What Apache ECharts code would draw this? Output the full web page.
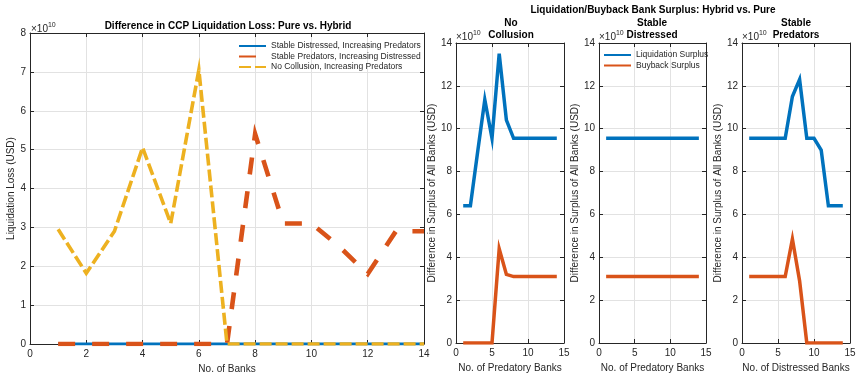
<!DOCTYPE html>
<html>
<head>
<meta charset="utf-8">
<script src="https://cdn.jsdelivr.net/npm/echarts@6/dist/echarts.min.js"></script>
<style>
  html, body { margin: 0; padding: 0; background: #fff; }
  #chart { width: 860px; height: 373px; }
</style>
</head>
<body>
<div id="chart"></div>
<script>
// ---------- data (values in units of 1e10 USD) ----------
const banks = [1, 2, 3, 4, 5, 6, 7, 8, 9, 10, 11, 12, 13, 14];

// Left: Difference in CCP Liquidation Loss
const lossStableDistressed = [0, 0, 0, 0, 0, 0, 0, 0, 0, 0, 0, 0, 0, 0];
const lossStablePredators  = [0, 0, 0, 0, 0, 0, 0, 5.4, 3.1, 3.1, 2.5, 1.8, 2.9, 2.9];
const lossNoCollusion      = [2.95, 1.82, 2.9, 5.05, 3.1, 7.05, 0, 0, 0, 0, 0, 0, 0, 0];

// Right: surplus panels
const ncLiquidation = [6.4, 6.4, 8.9, 11.35, 9.55, 13.5, 10.4, 9.55, 9.55, 9.55, 9.55, 9.55, 9.55, 9.55];
const ncBuyback     = [0, 0, 0, 0, 0, 4.4, 3.2, 3.1, 3.1, 3.1, 3.1, 3.1, 3.1, 3.1];
const sdLiquidation = [9.55, 9.55, 9.55, 9.55, 9.55, 9.55, 9.55, 9.55, 9.55, 9.55, 9.55, 9.55, 9.55, 9.55];
const sdBuyback     = [3.1, 3.1, 3.1, 3.1, 3.1, 3.1, 3.1, 3.1, 3.1, 3.1, 3.1, 3.1, 3.1, 3.1];
const spLiquidation = [9.55, 9.55, 9.55, 9.55, 9.55, 9.55, 11.5, 12.3, 9.55, 9.55, 9.0, 6.4, 6.4, 6.4];
const spBuyback     = [3.1, 3.1, 3.1, 3.1, 3.1, 3.1, 4.85, 2.9, 0, 0, 0, 0, 0, 0];

// ---------- styles ----------
const FONT = '"Liberation Sans", Arial, Helvetica, sans-serif';
const AX = '#262626';
const GRIDC = '#e2e2e2';
const BLUE = '#0072BD', ORANGE = '#D95319', YELLOW = '#EDB120';

const pairs = (xs, ys) => xs.map((x, i) => [x, ys[i]]);

const grids = [
  { left: 30, top: 33, width: 394, height: 311 },
  { left: 456, top: 43, width: 108, height: 300 },
  { left: 599, top: 43, width: 107, height: 300 },
  { left: 742, top: 43, width: 108, height: 300 }
];

const xAxes = [], yAxes = [];
function addAxes(g, xmin, xmax, xint, ymin, ymax, yint, xname, yname, yGap, xGap) {
  const common = {
    gridIndex: g,
    axisLine: { show: true, onZero: false, lineStyle: { color: AX, width: 1 } },
    axisTick: { show: true, inside: true, length: 4, lineStyle: { color: AX } },
  };
  xAxes.push(Object.assign({}, common, {
    type: 'value', position: 'bottom', min: xmin, max: xmax, interval: xint,
    name: xname, nameLocation: 'middle', nameGap: xGap,
    nameTextStyle: { fontFamily: FONT, fontSize: 10, color: AX },
    axisLabel: { margin: 5, fontFamily: FONT, fontSize: 10, color: AX },
    splitLine: { show: true, lineStyle: { color: GRIDC, width: 1 } }
  }));
  xAxes.push(Object.assign({}, common, {
    type: 'value', position: 'top', min: xmin, max: xmax, interval: xint,
    axisLabel: { show: false }, splitLine: { show: false }
  }));
  yAxes.push(Object.assign({}, common, {
    type: 'value', position: 'left', min: ymin, max: ymax, interval: yint,
    name: yname, nameLocation: 'middle', nameGap: yGap,
    nameTextStyle: { fontFamily: FONT, fontSize: 10, color: AX },
    axisLabel: { margin: 4, fontFamily: FONT, fontSize: 10, color: AX },
    splitLine: { show: true, lineStyle: { color: GRIDC, width: 1 } }
  }));
  yAxes.push(Object.assign({}, common, {
    type: 'value', position: 'right', min: ymin, max: ymax, interval: yint,
    axisLabel: { show: false }, splitLine: { show: false }
  }));
}
addAxes(0, 0, 14, 2, 0, 8, 1, 'No. of Banks', 'Liquidation Loss (USD)', 11, 18);
addAxes(1, 0, 15, 5, 0, 14, 2, 'No. of Predatory Banks', 'Difference in Surplus of All Banks (USD)', 16, 17);
addAxes(2, 0, 15, 5, 0, 14, 2, 'No. of Predatory Banks', 'Difference in Surplus of All Banks (USD)', 16, 17);
addAxes(3, 0, 15, 5, 0, 14, 2, 'No. of Distressed Banks', 'Difference in Surplus of All Banks (USD)', 16, 17);

function line(name, g, ys, color, width, type) {
  return {
    name: name, type: 'line', xAxisIndex: g * 2, yAxisIndex: g * 2,
    data: pairs(banks, ys), symbol: 'none', silent: true, animation: false,
    lineStyle: { color: color, width: width, type: type || 'solid', cap: 'butt', join: 'miter' },
    itemStyle: { color: color }
  };
}

const series = [
  line('Stable Distressed, Increasing Predators', 0, lossStableDistressed, BLUE, 3),
  line('Stable Predators, Increasing Distressed', 0, lossStablePredators, ORANGE, 4.6, [17, 17]),
  line('No Collusion, Increasing Predators', 0, lossNoCollusion, YELLOW, 3.6, [12, 4]),
  line('Liquidation Surplus', 1, ncLiquidation, BLUE, 3.5),
  line('Buyback Surplus', 1, ncBuyback, ORANGE, 3.5),
  line('Liquidation Surplus', 2, sdLiquidation, BLUE, 3.5),
  line('Buyback Surplus', 2, sdBuyback, ORANGE, 3.5),
  line('Liquidation Surplus', 3, spLiquidation, BLUE, 3.5),
  line('Buyback Surplus', 3, spBuyback, ORANGE, 3.5)
];

const titleFont = 'bold 10px ' + FONT;
function txt(x, y, text, font, align) {
  return { type: 'text', x: x, y: y, silent: true,
    style: { text: text, font: font, fill: '#000', align: align || 'center', verticalAlign: 'middle' } };
}
function exponent(x, y) {
  return { type: 'text', x: x, y: y, silent: true,
    style: {
      text: '{a|×10}{b|10}', align: 'left', verticalAlign: 'middle',
      rich: {
        a: { fontFamily: FONT, fontSize: 10, fill: AX, verticalAlign: 'bottom' },
        b: { fontFamily: FONT, fontSize: 7, fill: AX, verticalAlign: 'top', padding: [0, 0, 6, 0] }
      }
    } };
}

const legendCommon = {
  orient: 'vertical', padding: 0, itemGap: 0.5,
  itemWidth: 27, itemHeight: 10, selectedMode: false,
  itemStyle: { opacity: 0 },
  textStyle: { fontFamily: FONT, fontSize: 8.5, color: AX, lineHeight: 10 }
};

const option = {
  backgroundColor: '#fff',
  animation: false,
  grid: grids.map(g => Object.assign({ show: false, containLabel: false, outerBoundsMode: 'none' }, g)),
  xAxis: xAxes,
  yAxis: yAxes,
  legend: [
    Object.assign({}, legendCommon, {
      data: ['Stable Distressed, Increasing Predators', 'Stable Predators, Increasing Distressed', 'No Collusion, Increasing Predators'],
      left: 238, top: 41
    }),
    Object.assign({}, legendCommon, {
      data: ['Liquidation Surplus', 'Buyback Surplus'],
      left: 603, top: 50
    })
  ],
  graphic: [
    txt(228, 26, 'Difference in CCP Liquidation Loss: Pure vs. Hybrid', titleFont),
    txt(653, 10, 'Liquidation/Buyback Bank Surplus: Hybrid vs. Pure', titleFont),
    txt(511, 23, 'No', titleFont), txt(511, 35, 'Collusion', titleFont),
    txt(652, 23, 'Stable', titleFont), txt(652, 35, 'Distressed', titleFont),
    txt(796, 23, 'Stable', titleFont), txt(796, 35, 'Predators', titleFont),
    exponent(31, 28),
    exponent(456, 36),
    exponent(599, 36),
    exponent(742, 36)
  ],
  series: series
};

const chart = echarts.init(document.getElementById('chart'), null, { renderer: 'canvas' });
chart.setOption(option);
</script>
</body>
</html>
